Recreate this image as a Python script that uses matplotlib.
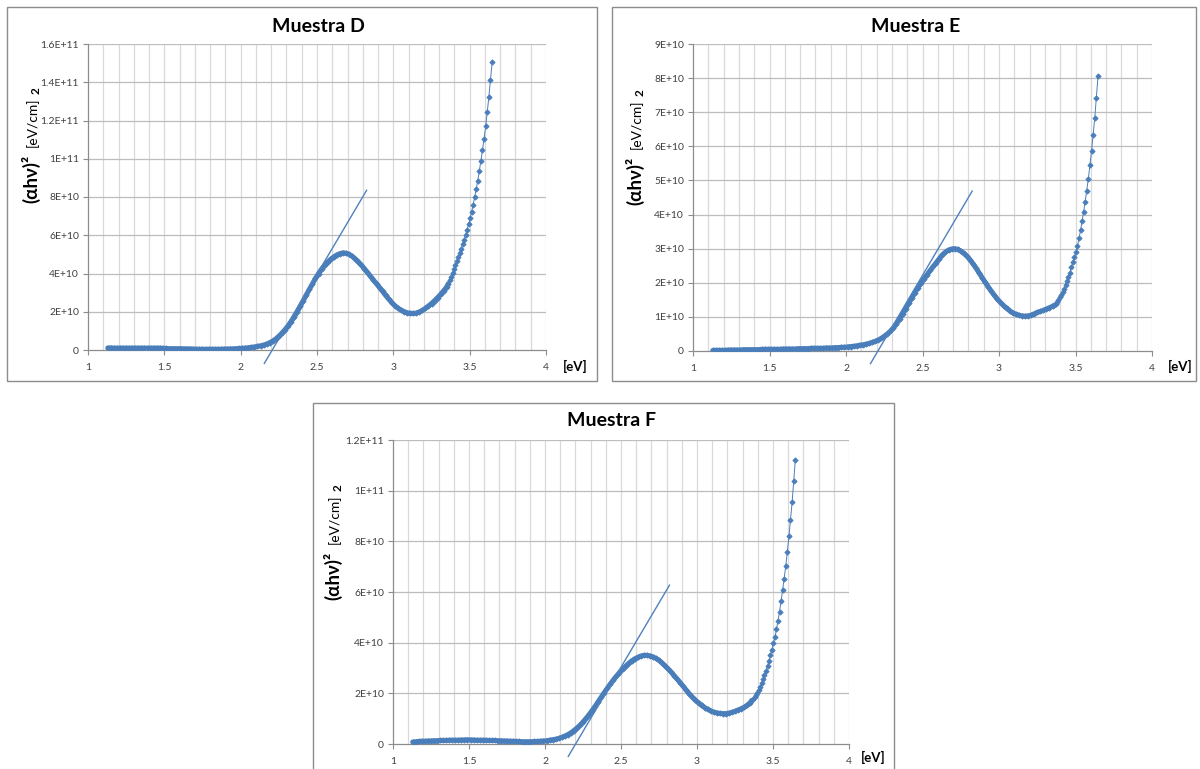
import numpy as np
import matplotlib
matplotlib.use("Agg")
import matplotlib.pyplot as plt
from matplotlib.patches import Rectangle

plt.rcParams['font.family'] = ['Lato', 'Open Sans', 'DejaVu Sans']

# Photon energy (eV): dense low-energy region, then the sparse high-energy points
energia_ev = [
    1.13, 1.15, 1.17, 1.19, 1.21, 1.23, 1.25, 1.27, 1.29, 1.31,
    1.33, 1.35, 1.37, 1.39, 1.41, 1.43, 1.45, 1.47, 1.49, 1.51,
    1.53, 1.55, 1.57, 1.59, 1.61, 1.63, 1.65, 1.67, 1.69, 1.71,
    1.73, 1.75, 1.77, 1.79, 1.81, 1.83, 1.85, 1.87, 1.89, 1.91,
    1.93, 1.95, 1.97, 1.99, 2.01, 2.03, 2.05, 2.07, 2.09, 2.11,
    2.13, 2.15, 2.17, 2.19, 2.21, 2.23, 2.25, 2.27, 2.29, 2.31,
    2.33, 2.35, 2.37, 2.39, 2.41, 2.43, 2.45, 2.47, 2.49, 2.51,
    2.53, 2.55, 2.57, 2.59, 2.61, 2.63, 2.65, 2.67, 2.69, 2.71,
    2.73, 2.75, 2.77, 2.79, 2.81, 2.83, 2.85, 2.87, 2.89, 2.91,
    2.93, 2.95, 2.97, 2.99, 3.01, 3.03, 3.05, 3.07, 3.09, 3.11,
    3.13, 3.15, 3.17, 3.19, 3.21, 3.23, 3.25, 3.27, 3.29, 3.31,
    3.33, 3.35,
    3.360, 3.370, 3.379, 3.388, 3.397, 3.407, 3.416, 3.425, 3.435, 3.444,
    3.454, 3.464, 3.473, 3.483, 3.493, 3.503, 3.513, 3.523, 3.533, 3.543,
    3.553, 3.563, 3.573, 3.584, 3.594, 3.605, 3.615, 3.626, 3.636, 3.647,
]
n_denso = 113  # points up to 3.36 eV are drawn as a continuous band

# (alpha h nu)^2 in units of 1e9 (eV/cm)^2
muestra_d = [
    1.1, 1.1, 1.0, 1.0, 1.0, 1.0, 1.0, 1.0, 1.0, 1.0,
    1.0, 1.0, 1.0, 1.0, 1.0, 1.0, 1.0, 1.0, 0.9, 0.8,
    0.7, 0.7, 0.7, 0.7, 0.7, 0.6, 0.6, 0.6, 0.5, 0.4,
    0.4, 0.4, 0.4, 0.4, 0.4, 0.4, 0.4, 0.4, 0.5, 0.5,
    0.6, 0.6, 0.7, 0.8, 0.9, 1.0, 1.2, 1.4, 1.6, 1.9,
    2.2, 2.6, 3.1, 3.8, 4.7, 5.8, 7.2, 8.8, 10.6, 12.6,
    14.8, 17.2, 19.8, 22.8, 25.8, 28.8, 31.7, 34.6, 37.4, 40.0,
    42.3, 44.3, 46.0, 47.5, 48.7, 49.7, 50.4, 50.8, 50.6, 50.0,
    49.0, 47.7, 46.2, 44.5, 42.6, 40.6, 38.6, 36.6, 34.6, 32.6,
    30.6, 28.5, 26.6, 24.8, 23.2, 21.9, 20.9, 20.1, 19.5, 19.2,
    19.1, 19.3, 19.9, 20.7, 21.8, 23.0, 24.3, 25.8, 27.4, 29.1,
    31.0, 33.0,
    34.7, 36.4, 38.3, 40.2, 42.2, 44.3, 46.4, 48.6, 50.8, 52.9,
    55.2, 57.7, 60.2, 63.0, 65.8, 68.8, 72.3, 76.0, 80.0, 84.2,
    88.6, 93.5, 98.8, 104.5, 110.5, 117.0, 124.5, 132.5, 141.0, 150.5,
]

muestra_e = [
    0.2, 0.2, 0.2, 0.2, 0.2, 0.3, 0.3, 0.3, 0.3, 0.3,
    0.4, 0.4, 0.4, 0.4, 0.4, 0.4, 0.5, 0.5, 0.5, 0.5,
    0.5, 0.5, 0.5, 0.6, 0.6, 0.6, 0.6, 0.6, 0.7, 0.7,
    0.7, 0.7, 0.8, 0.8, 0.8, 0.8, 0.8, 0.9, 0.9, 0.9,
    1.0, 1.0, 1.1, 1.1, 1.2, 1.3, 1.4, 1.5, 1.7, 1.8,
    2.0, 2.2, 2.5, 2.8, 3.2, 3.7, 4.3, 5.0, 5.8, 6.8,
    8.0, 9.3, 10.8, 12.4, 14.0, 15.6, 17.1, 18.5, 19.9, 21.2,
    22.4, 23.6, 24.8, 25.9, 27.1, 28.2, 29.0, 29.6, 29.9, 30.0,
    29.8, 29.3, 28.6, 27.8, 26.8, 25.6, 24.3, 22.9, 21.5, 20.1,
    18.8, 17.5, 16.3, 15.2, 14.2, 13.3, 12.5, 11.8, 11.2, 10.8,
    10.5, 10.3, 10.2, 10.3, 10.5, 10.9, 11.3, 11.6, 11.9, 12.3,
    12.7, 13.1,
    13.4, 13.9, 14.4, 15.0, 15.7, 16.5, 17.3, 18.3, 19.4, 20.6,
    21.8, 23.0, 24.6, 26.0, 27.6, 29.0, 30.8, 33.0, 35.4, 38.0,
    40.8, 43.8, 47.0, 50.5, 54.4, 58.7, 63.2, 68.4, 74.1, 80.5,
]

muestra_f = [
    0.8, 0.9, 1.0, 1.1, 1.1, 1.2, 1.2, 1.3, 1.3, 1.4,
    1.4, 1.4, 1.5, 1.5, 1.5, 1.5, 1.6, 1.6, 1.7, 1.6,
    1.6, 1.5, 1.5, 1.5, 1.5, 1.4, 1.4, 1.4, 1.3, 1.3,
    1.2, 1.2, 1.1, 1.1, 1.0, 1.0, 0.9, 0.9, 0.9, 0.9,
    1.0, 1.0, 1.1, 1.2, 1.3, 1.5, 1.7, 1.9, 2.2, 2.6,
    3.1, 3.7, 4.4, 5.3, 6.3, 7.4, 8.7, 10.1, 11.6, 13.2,
    14.9, 16.7, 18.5, 20.3, 22.0, 23.7, 25.3, 26.8, 28.2, 29.5,
    30.7, 31.8, 32.8, 33.6, 34.2, 34.7, 35.0, 35.0, 34.8, 34.4,
    33.8, 33.0, 32.0, 30.9, 29.7, 28.4, 27.0, 25.6, 24.2, 22.7,
    21.2, 19.8, 18.5, 17.3, 16.2, 15.2, 14.4, 13.7, 13.1, 12.6,
    12.3, 12.1, 12.0, 12.0, 12.2, 12.5, 12.9, 13.4, 13.9, 14.5,
    15.3, 16.3,
    17.2, 17.9, 18.6, 19.4, 20.3, 21.4, 22.6, 24.0, 25.5, 27.1,
    28.9, 30.8, 32.8, 35.0, 37.3, 39.7, 42.3, 45.3, 48.7, 52.3,
    56.3, 60.6, 65.2, 70.3, 75.9, 82.0, 88.6, 95.6, 103.8, 112.3,
]

# Tangent lines used to extrapolate the band gap (endpoints: eV, 1e9 units)
tangente_d_x, tangente_d_y = [2.155, 2.825], [-7.0, 83.5]
tangente_e_x, tangente_e_y = [2.160, 2.825], [-3.7, 46.9]
tangente_f_x, tangente_f_y = [2.153, 2.819], [-4.9, 62.7]

x_ticks = [1, 1.5, 2, 2.5, 3, 3.5, 4]
x_tick_labels = ["1", "1.5", "2", "2.5", "3", "3.5", "4"]

y_ticks_d = [0, 20, 40, 60, 80, 100, 120, 140, 160]
y_labels_d = ["0", "2E+10", "4E+10", "6E+10", "8E+10", "1E+11", "1.2E+11", "1.4E+11", "1.6E+11"]
y_ticks_e = [0, 10, 20, 30, 40, 50, 60, 70, 80, 90]
y_labels_e = ["0", "1E+10", "2E+10", "3E+10", "4E+10", "5E+10", "6E+10", "7E+10", "8E+10", "9E+10"]
y_ticks_f = [0, 20, 40, 60, 80, 100, 120]
y_labels_f = ["0", "2E+10", "4E+10", "6E+10", "8E+10", "1E+11", "1.2E+11"]

ESCALA = 1e9
W, H = 1200, 769
AZUL = "#4A7EBB"
GRIS_TXT = "#404040"

fig = plt.figure(figsize=(W / 100, H / 100), dpi=100)


def px(x, y):
    return x / W, 1 - y / H


def panel(ax_px, box_px, titulo, titulo_px, valores, tx, ty, yticks, ylabels,
          ylab_px, ev_px):
    # chart frame
    bx0, by0, bx1, by1 = box_px
    fig.patches.append(Rectangle(px(bx0, by1), (bx1 - bx0) / W, (by1 - by0) / H,
                                 transform=fig.transFigure, fill=False,
                                 edgecolor="#8C8C8C", linewidth=1.0, zorder=0))
    x0, y0, x1, y1 = ax_px
    ax = fig.add_axes([x0 / W, 1 - y1 / H, (x1 - x0) / W, (y1 - y0) / H])
    ymax = yticks[-1]
    ax.set_xlim(1, 4)
    ax.set_ylim(0, ymax * ESCALA)

    # grid: light vertical lines every 0.1 eV, darker horizontal lines at major ticks
    for xv in np.arange(11, 41) / 10:
        ax.axvline(xv, color="#D9D9D9", lw=0.9, zorder=1)
    for yv in yticks[1:]:
        ax.axhline(yv * ESCALA, color="#BDBDBD", lw=0.9, zorder=1)

    e = np.array(energia_ev)
    v = np.array(valores) * ESCALA
    ax.plot(e[:n_denso], v[:n_denso], color=AZUL, lw=3.6, solid_capstyle="round",
            solid_joinstyle="round", zorder=3)
    ax.plot(e, v, color=AZUL, lw=0.7, marker="D", ms=2.7, mec=AZUL, mfc=AZUL,
            mew=0.6, zorder=4)
    ax.plot(tx, np.array(ty) * ESCALA, color="#4F81BD", lw=1.0, clip_on=False,
            zorder=5)

    ax.set_xticks(x_ticks)
    ax.set_xticklabels(x_tick_labels)
    ax.set_yticks([t * ESCALA for t in yticks])
    ax.set_yticklabels(ylabels)
    ax.tick_params(axis="both", labelsize=7.5, labelcolor=GRIS_TXT, color="#8C8C8C",
                   length=3.5, width=0.8, direction="out")
    ax.tick_params(axis="x", pad=6)
    ax.tick_params(axis="y", pad=3)
    for s in ("top", "right"):
        ax.spines[s].set_visible(False)
    for s in ("left", "bottom"):
        ax.spines[s].set_color("#8C8C8C")
        ax.spines[s].set_linewidth(0.9)

    fig.text(*px(*titulo_px), titulo, ha="center", va="center", fontsize=14,
             fontweight="bold", color="black")

    lx, ly = ylab_px
    fig.text(*px(lx, ly), "(αhν)²", rotation=90, ha="center", va="bottom",
             fontsize=13.5, fontweight="bold", color="black")
    fig.text(*px(lx + 1, ly - 56), "[eV/cm]", rotation=90, ha="center", va="bottom",
             fontsize=10, color="black")
    fig.text(*px(lx + 5, ly - 112), "2", rotation=90, ha="center", va="center",
             fontsize=8.5, fontweight="bold", color="black")
    fig.text(*px(*ev_px), "[eV]", ha="center", va="center", fontsize=9.5,
             fontweight="bold", color="black")
    return ax


panel((88, 44, 546, 350), (7, 7, 597, 381), "Muestra D", (318, 27), muestra_d,
      tangente_d_x, tangente_d_y, y_ticks_d, y_labels_d, (31, 203), (575, 366))
panel((693, 44, 1152, 351), (612, 7, 1196, 381), "Muestra E", (916, 27), muestra_e,
      tangente_e_x, tangente_e_y, y_ticks_e, y_labels_e, (635, 205), (1180, 366))
panel((393, 440, 849, 744), (313, 403, 894, 790), "Muestra F", (612, 421), muestra_f,
      tangente_f_x, tangente_f_y, y_ticks_f, y_labels_f, (333, 600), (873, 757))

fig.savefig("out.png", dpi=100, facecolor="white")
